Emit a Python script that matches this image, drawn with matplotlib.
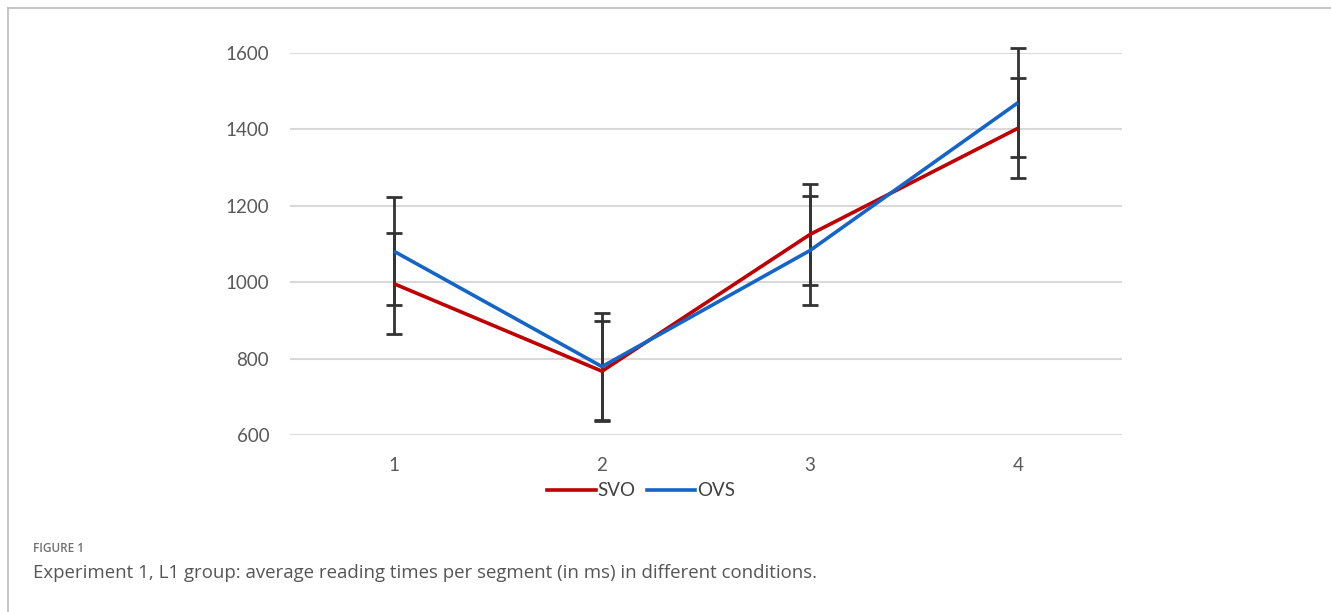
import matplotlib
matplotlib.use("Agg")
import matplotlib.pyplot as plt
from matplotlib.lines import Line2D

segments = ["1", "2", "3", "4"]
svo = [996, 767, 1125, 1403]
svo_err = [132, 131, 132, 131]
ovs = [1081, 779, 1083, 1470]
ovs_err = [141, 141, 143, 143]
yticks = [600, 800, 1000, 1200, 1400, 1600]

W, H = 1331, 612
fig = plt.figure(figsize=(W / 100, H / 100), dpi=100)
fig.patch.set_facecolor("white")

ax = fig.add_axes([290 / W, 1 - 435 / H, (1122 - 290) / W, (435 - 53) / H])
x = list(range(len(segments)))
red = "#C00000"
blue = "#1565C8"
err_c = "#333333"

for vals, errs in ((svo, svo_err), (ovs, ovs_err)):
    eb = ax.errorbar(x, vals, yerr=errs, fmt="none", ecolor=err_c, elinewidth=2,
                     capsize=6, capthick=2, zorder=3)
    for art in eb.lines[1] + eb.lines[2]:
        art.set_clip_on(False)
ax.plot(x, svo, color=red, lw=2.6, zorder=4, solid_capstyle="butt")
ax.plot(x, ovs, color=blue, lw=2.6, zorder=5, solid_capstyle="butt")

ax.set_xlim(-0.5, 3.5)
ax.set_ylim(600, 1600)
ax.set_yticks(yticks)
ax.set_xticks(x)
ax.set_xticklabels(segments)
ax.grid(axis="y", color="#D9D9D9", lw=1.5, zorder=0)
ax.set_axisbelow(True)
for s in ax.spines.values():
    s.set_visible(False)
ax.tick_params(length=0, labelsize=13.5, labelcolor="#595959")
ax.tick_params(axis="y", pad=15)
ax.tick_params(axis="x", pad=16)
for lab in ax.get_xticklabels() + ax.get_yticklabels():
    lab.set_family("Lato")

handles = [Line2D([], [], color=red, lw=2.6), Line2D([], [], color=blue, lw=2.6)]
fig.legend(handles, ["SVO", "OVS"], loc="center", bbox_to_anchor=(641 / W, 1 - 491 / H),
           ncol=2, frameon=False, handlelength=2.6, handletextpad=0.1,
           columnspacing=0.6, prop={"family": "Lato", "size": 13.5},
           labelcolor="#404040")

fig.text(33 / W, 1 - 549 / H, "FIGURE 1", family="Open Sans", fontsize=8.5,
         fontweight="semibold", color="#707070", va="center", ha="left")
fig.text(33 / W, 1 - 573 / H,
         "Experiment 1, L1 group: average reading times per segment (in ms) in different conditions.",
         family="Open Sans", fontsize=13.45, color="#555555", va="center", ha="left")

fig.add_artist(Line2D([7.5 / W, 7.5 / W], [0, 1 - 7.5 / H], color="#BBBBBB", lw=1.2))
fig.add_artist(Line2D([7.5 / W, 1], [1 - 7.5 / H, 1 - 7.5 / H], color="#BBBBBB", lw=1.2))

fig.savefig("out.png", dpi=100, facecolor="white")
